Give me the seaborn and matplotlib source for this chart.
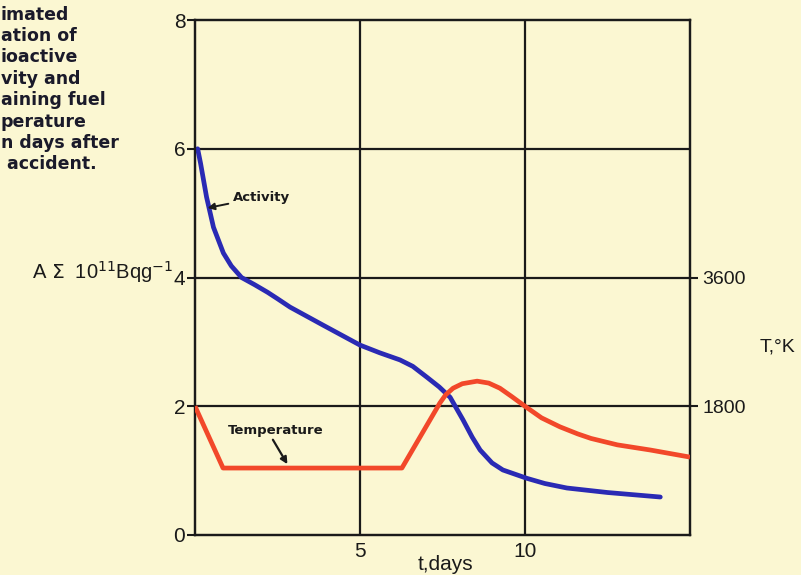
import matplotlib
matplotlib.use("Agg")
import matplotlib.pyplot as plt
import seaborn as sns
import pandas as pd

# ---- data ----
act_t = [0.08, 0.17, 0.35, 0.56, 0.86, 1.1, 1.41, 1.8, 2.2, 2.5, 2.88, 3.88, 5.0, 5.6,
         6.21, 6.6, 7.03, 7.4, 7.73, 8.12, 8.4, 8.64, 9.0, 9.33, 10.06, 10.6, 11.27, 12.5, 14.1]
act_v = [6.0, 5.77, 5.25, 4.78, 4.38, 4.18, 4.0, 3.89, 3.77, 3.67, 3.54, 3.26, 2.95, 2.83,
         2.72, 2.62, 2.45, 2.3, 2.14, 1.79, 1.52, 1.32, 1.12, 1.01, 0.88, 0.80, 0.73, 0.66, 0.59]

temp_t = [0.0, 0.85, 6.27, 7.42, 7.6, 7.82, 8.1, 8.55, 8.9, 9.24, 9.6, 10.0, 10.5, 11.06,
          11.6, 12.0, 12.8, 13.8, 15.0]
temp_K = [1800, 936, 936, 1845, 1962, 2052, 2115, 2151, 2124, 2052, 1935, 1800, 1638, 1512,
          1413, 1350, 1260, 1188, 1089]

y_ticks = [0, 2, 4, 6, 8]
x_ticks = [5, 10]
x_tick_labels = ["5", "10"]
t_ticks = [1800, 3600]
t_tick_labels = ["1800", "3600"]

# caption lines as visible (the page is cropped at the left edge)
caption = ["imated", "ation of", "ioactive", "vity and",
           "aining fuel", "perature", "n days after", " accident."]

# ---- style ----
sns.set_theme(style="white")
plt.rcParams["font.family"] = ["Liberation Sans", "DejaVu Sans"]
BG = "#fbf7d2"
BLUE = "#2a2ab4"
RED = "#f2482a"
INK = "#1a1a1a"

W, H = 801, 575
fig = plt.figure(figsize=(W / 100, H / 100), dpi=100, facecolor=BG)
ax = fig.add_axes([195 / W, (H - 535) / H, (690 - 195) / W, (535 - 20) / H])
ax.set_facecolor(BG)

ax.set_xlim(0, 15)
ax.set_ylim(0, 8)

for yv in [2, 4, 6]:
    ax.axhline(yv, color=INK, lw=1.6, zorder=1)
for xv in [5, 10]:
    ax.axvline(xv, color=INK, lw=1.6, zorder=1)

df_act = pd.DataFrame({"t": act_t, "A": act_v})
sns.lineplot(data=df_act, x="t", y="A", ax=ax, color=BLUE, lw=3.4, sort=False, zorder=3,
             solid_joinstyle="round", solid_capstyle="round")

ax2 = ax.twinx()
ax2.set_ylim(0, 7200)
df_temp = pd.DataFrame({"t": temp_t, "T": temp_K})
sns.lineplot(data=df_temp, x="t", y="T", ax=ax2, color=RED, lw=3.4, sort=False, zorder=3,
             solid_joinstyle="round", solid_capstyle="butt")

for a in (ax, ax2):
    for s in a.spines.values():
        s.set_color(INK)
        s.set_linewidth(1.6)
    a.set_xlabel("")
    a.set_ylabel("")

ax.set_yticks(y_ticks)
ax.set_yticklabels([str(v) for v in y_ticks])
ax.set_xticks(x_ticks)
ax.set_xticklabels(x_tick_labels)
ax.tick_params(axis="y", direction="out", length=6, width=1.5, colors=INK,
               labelsize=15, pad=1)
ax.tick_params(axis="x", direction="in", length=0, labelsize=15, pad=5, colors=INK)
ax2.set_yticks(t_ticks)
ax2.set_yticklabels(t_tick_labels)
ax2.tick_params(axis="y", direction="out", length=6, width=1.5, colors=INK,
                labelsize=14, pad=3)

# axis labels
fig.text(445 / W, 1 - 565 / H, "t,days", ha="center", va="center", fontsize=15, color=INK)
fig.text(173 / W, 1 - 272 / H, r"A $\Sigma$  10$^{11}$Bqg$^{-1}$", ha="right", va="center",
         fontsize=14.5, color=INK)
fig.text(778 / W, 1 - 347 / H, "T,°K", ha="center", va="center", fontsize=14, color=INK)

# annotations
ax.annotate("Activity", xy=(0.38, 5.08), xytext=(1.15, 5.25), fontsize=9.5, fontweight="bold",
            family="DejaVu Sans", color=INK, va="center", ha="left",
            arrowprops=dict(arrowstyle="-|>", color=INK, lw=1.4, mutation_scale=10,
                            shrinkA=1, shrinkB=0))
ax.text(2.45, 1.63, "Temperature", fontsize=9.5, fontweight="bold", family="DejaVu Sans",
        color=INK, va="center", ha="center")
ax.annotate("", xy=(2.8, 1.1), xytext=(2.36, 1.48),
            arrowprops=dict(arrowstyle="-|>", color=INK, lw=1.6, mutation_scale=10,
                            shrinkA=0, shrinkB=0))

# caption block (left-aligned against the cropped page edge)
line_y = [15, 36, 57, 79, 100, 122, 143, 164]
for txt, yc in zip(caption, line_y):
    fig.text(1 / W, 1 - yc / H, txt, ha="left", va="center", fontsize=12.5,
             fontweight="bold", family="DejaVu Sans", color="#1a1a2a")

fig.savefig("out.png", dpi=100, facecolor=BG)
